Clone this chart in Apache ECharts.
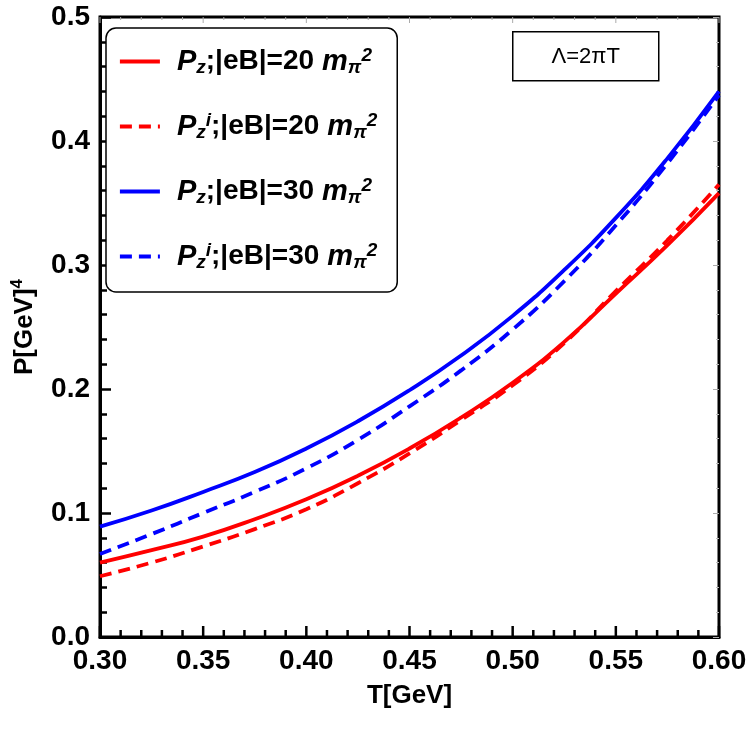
<!DOCTYPE html>
<html>
<head>
<meta charset="utf-8">
<script src="https://cdn.jsdelivr.net/npm/echarts@6/dist/echarts.min.js"></script>
<style>html,body{margin:0;padding:0;background:#fff}#c{width:750px;height:736px}</style>
</head>
<body>
<div id="c"></div>
<script>
const T = [0.30, 0.325, 0.35, 0.375, 0.40, 0.425, 0.45, 0.475, 0.50, 0.525, 0.55, 0.575, 0.60];
const pz20  = [0.060, 0.070, 0.081, 0.095, 0.111, 0.130, 0.152, 0.177, 0.205, 0.238, 0.277, 0.316, 0.358];
const pzi20 = [0.049, 0.060, 0.073, 0.087, 0.103, 0.124, 0.148, 0.175, 0.203, 0.237, 0.279, 0.320, 0.365];
const pz30  = [0.089, 0.102, 0.117, 0.133, 0.152, 0.174, 0.199, 0.227, 0.259, 0.296, 0.338, 0.386, 0.440];
const pzi30 = [0.067, 0.083, 0.100, 0.117, 0.136, 0.159, 0.186, 0.215, 0.248, 0.287, 0.332, 0.382, 0.437];
const xTicks = [0.30, 0.35, 0.40, 0.45, 0.50, 0.55, 0.60];
const xMinorTicks = [0.31, 0.32, 0.33, 0.34, 0.36, 0.37, 0.38, 0.39, 0.41, 0.42, 0.43, 0.44, 0.46, 0.47, 0.48, 0.49, 0.51, 0.52, 0.53, 0.54, 0.56, 0.57, 0.58, 0.59];
const yTicks = [0.0, 0.1, 0.2, 0.3, 0.4, 0.5];
const seriesNames = ['Pz20', 'Pzi20', 'Pz30', 'Pzi30'];
const legendLabels = {
  Pz20: '{it|P}{sub|z}{b|;|eB|=20}{it| m}{sub|π}{sup|2}',
  Pzi20: '{it|P}{sub|z}{sup|i}{b|;|eB|=20}{it| m}{sub|π}{sup|2}',
  Pz30: '{it|P}{sub|z}{b|;|eB|=30}{it| m}{sub|π}{sup|2}',
  Pzi30: '{it|P}{sub|z}{sup|i}{b|;|eB|=30}{it| m}{sub|π}{sup|2}'
};
const annotation = 'Λ=2πT';

const FONT = '"Liberation Sans", Arial, sans-serif';
const zip = a => T.map((t, i) => [t, a[i]]);
const mk = (name, data, color, dashed) => ({
  name, type: 'line', data: zip(data), smooth: true, symbol: 'none',
  lineStyle: { color, width: 3.8, type: dashed ? [12, 7] : 'solid' },
  itemStyle: { color }, z: 3
});
// x-axis tick marks drawn through the x scale (api.coord), bottom black and top grey
const tickSeries = (values, len, topLen) => ({
  type: 'custom', silent: true, z: 6, clip: false,
  data: values.map(v => [v, 0]),
  renderItem: (params, api) => {
    const b = api.coord([api.value(0), 0]);
    const t = api.coord([api.value(0), 0.5]);
    return {
      type: 'group',
      children: [
        { type: 'line', shape: { x1: b[0], y1: b[1], x2: b[0], y2: b[1] - len }, style: { stroke: '#000', lineWidth: 2.5 } },
        { type: 'line', shape: { x1: t[0], y1: t[1], x2: t[0], y2: t[1] + topLen }, style: { stroke: '#aaa', lineWidth: 1 } }
      ]
    };
  }
});

const chart = echarts.init(document.getElementById('c'), null, { renderer: 'canvas' });
const tickLabel = { fontFamily: FONT, fontWeight: 'bold', fontSize: 28, color: '#000' };

chart.setOption({
  animation: false,
  backgroundColor: '#fff',
  grid: { left: 100, right: 31, top: 17, bottom: 99, show: true, borderColor: '#000', borderWidth: 3, backgroundColor: 'transparent' },
  xAxis: [{
    type: 'value', min: 0.30, max: 0.60, interval: 0.05, position: 'bottom',
    name: 'T[GeV]', nameLocation: 'middle', nameGap: 46,
    nameTextStyle: { fontFamily: FONT, fontWeight: 'bold', fontSize: 26, color: '#000' },
    axisLine: { show: true, onZero: false, lineStyle: { color: '#000', width: 3 } },
    axisTick: { show: false },
    splitLine: { show: false },
    axisLabel: Object.assign({ show: true, margin: 10, formatter: v => xTicks.find(t => Math.abs(t - v) < 1e-9) !== undefined ? v.toFixed(2) : '' }, tickLabel)
  }],
  yAxis: [{
    type: 'value', min: 0, max: 0.5, interval: 0.1, position: 'left',
    name: '{a|P[GeV]}{s|4}', nameLocation: 'middle', nameGap: 60, nameRotate: 90,
    nameTextStyle: {
      rich: {
        a: { fontFamily: FONT, fontWeight: 'bold', fontSize: 26, color: '#000' },
        s: { fontFamily: FONT, fontWeight: 'bold', fontSize: 17, color: '#000', verticalAlign: 'top', padding: [0, 0, 14, 0] }
      }
    },
    axisLine: { show: true, onZero: false, lineStyle: { color: '#000', width: 3 } },
    axisTick: { show: true, inside: true, length: 11, lineStyle: { color: '#000', width: 2.5 } },
    minorTick: { show: true, splitNumber: 5, length: 7, lineStyle: { color: '#000', width: 2.5 } },
    splitLine: { show: false },
    axisLabel: Object.assign({ margin: 10, formatter: v => yTicks.find(t => Math.abs(t - v) < 1e-9) !== undefined ? v.toFixed(1) : '' }, tickLabel)
  }, {
    type: 'value', min: 0, max: 0.5, interval: 0.1, position: 'right',
    axisLine: { show: false, onZero: false },
    axisTick: { show: true, inside: true, length: 6, lineStyle: { color: '#aaa', width: 1 } },
    minorTick: { show: true, splitNumber: 5, length: 3, lineStyle: { color: '#bbb', width: 1 } },
    splitLine: { show: false }, axisLabel: { show: false }
  }],
  legend: {
    orient: 'vertical', left: 106, top: 28, z: 10,
    backgroundColor: '#fff', borderColor: '#000', borderWidth: 1.5, borderRadius: 10,
    padding: [18, 20, 20, 12], itemGap: 34, itemWidth: 40, itemHeight: 14,
    itemStyle: { opacity: 0 },
    lineStyle: { width: 3.8 },
    data: seriesNames,
    formatter: n => legendLabels[n],
    textStyle: {
      fontFamily: FONT, fontWeight: 'bold', fontSize: 28, color: '#000', padding: [0, 0, 0, 12],
      rich: {
        it: { fontFamily: FONT, fontWeight: 'bold', fontStyle: 'italic', fontSize: 29, color: '#000' },
        b: { fontFamily: FONT, fontWeight: 'bold', fontSize: 28, color: '#000' },
        sub: { fontFamily: FONT, fontWeight: 'bold', fontStyle: 'italic', fontSize: 19, color: '#000', verticalAlign: 'bottom', padding: [12, 0, 0, 0] },
        sup: { fontFamily: FONT, fontWeight: 'bold', fontStyle: 'italic', fontSize: 19, color: '#000', verticalAlign: 'top', padding: [0, 0, 12, 0] }
      }
    }
  },
  graphic: [{
    type: 'group', left: 512, top: 31, z: 10,
    children: [
      { type: 'rect', shape: { x: 0, y: 0, width: 146, height: 49 }, style: { fill: '#fff', stroke: '#000', lineWidth: 1.5 } },
      { type: 'text', x: 73, y: 25, style: { text: annotation, fontFamily: FONT, fontSize: 22, fill: '#000', align: 'center', verticalAlign: 'middle' } }
    ]
  }],
  series: [
    mk('Pz20', pz20, '#ff0000', false),
    mk('Pzi20', pzi20, '#ff0000', true),
    mk('Pz30', pz30, '#0000ff', false),
    mk('Pzi30', pzi30, '#0000ff', true),
    tickSeries(xTicks, 11, 6),
    tickSeries(xMinorTicks, 7, 3)
  ]
});
</script>
</body>
</html>
